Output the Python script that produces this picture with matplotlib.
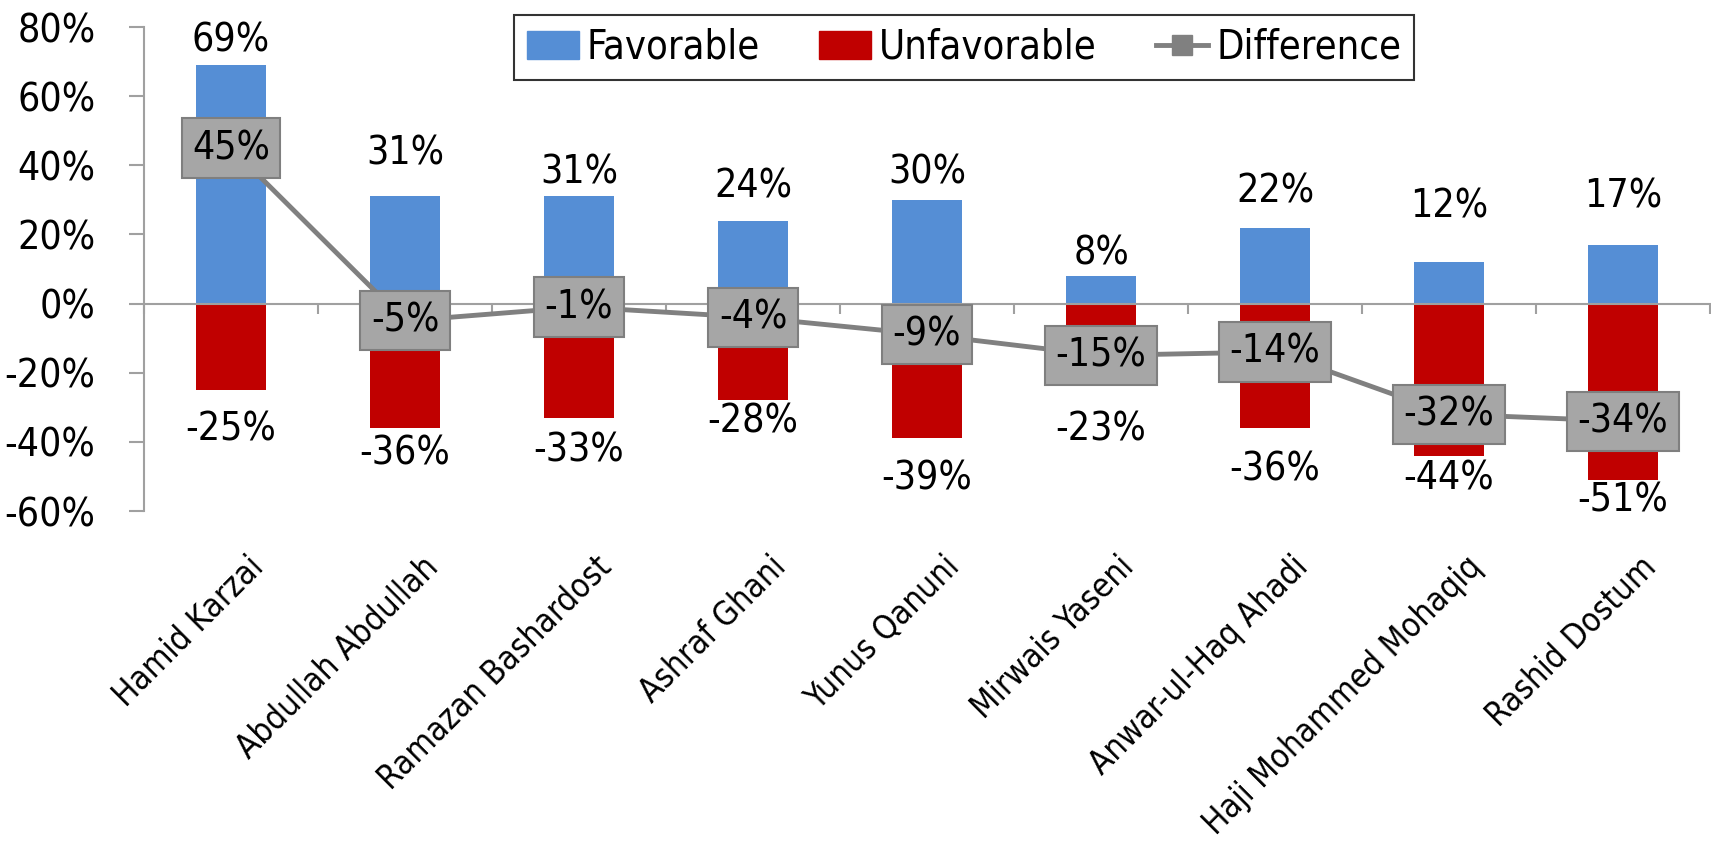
import matplotlib.pyplot as plt
import matplotlib.transforms as mtransforms
from matplotlib import font_manager
from matplotlib.font_manager import FontProperties
from matplotlib.lines import Line2D
from matplotlib.patches import Patch

# the original uses a narrow (Calibri-like) face; use DejaVu Sans Condensed if present
plt.rcParams['font.family'] = ['DejaVu Sans']
plt.rcParams['font.stretch'] = 'condensed'
found = font_manager.findfont(FontProperties(family='DejaVu Sans', stretch='condensed'))
k = 1.08 if 'Condensed' in found else 1.0

candidates = ["Hamid Karzai", "Abdullah Abdullah", "Ramazan Bashardost", "Ashraf Ghani",
              "Yunus Qanuni", "Mirwais Yaseni", "Anwar-ul-Haq Ahadi",
              "Haji Mohammed Mohaqiq", "Rashid Dostum"]
favorable = [69, 31, 31, 24, 30, 8, 22, 12, 17]
unfavorable = [-25, -36, -33, -28, -39, -23, -36, -44, -51]
difference = [45, -5, -1, -4, -9, -15, -14, -32, -34]

# label placement (data units) as moved by hand in the original
fav_label_y = [76, 43.5, 38, 34, 38, 14.5, 32.5, 28, 31]
unf_label_y = [-36.5, -43.5, -42.5, -34, -50.5, -36.5, -48, -50.5, -57]

blue = "#558ED5"
red = "#C00000"
grey = "#808080"
fs = 26 * k

fig = plt.figure(figsize=(17.11, 8.46), dpi=100)
ax = fig.add_axes([144 / 1711, 1 - 511 / 846, (1710 - 144) / 1711, (511 - 27) / 846])

x = list(range(len(candidates)))
ax.bar(x, favorable, width=0.4, color=blue, zorder=2)
ax.bar(x, unfavorable, width=0.4, color=red, zorder=2)
ax.plot(x, difference, color=grey, lw=3.5, zorder=3)

for i in x:
    ax.text(i, fav_label_y[i], f"{favorable[i]}%", ha="center", va="center", fontsize=fs, zorder=4)
    ax.text(i, unf_label_y[i], f"{unfavorable[i]}%", ha="center", va="center", fontsize=fs, zorder=4)
    ax.text(i, difference[i], f"{difference[i]}%", ha="center", va="center", fontsize=fs, zorder=5,
            bbox=dict(boxstyle="square,pad=0.27", fc="#A6A6A6", ec="#7F7F7F", lw=1.5))

ax.set_xlim(-0.5, len(candidates) - 0.5)
ax.set_ylim(-60, 80)
ax.set_yticks(range(-60, 81, 20))
ax.set_yticklabels([f"{t}%" for t in range(-60, 81, 20)], fontsize=fs)

ax.spines["top"].set_visible(False)
ax.spines["right"].set_visible(False)
ax.spines["left"].set_color("#A0A0A0")
ax.spines["left"].set_linewidth(1.5)
ax.spines["bottom"].set_position(("data", 0))
ax.spines["bottom"].set_color("#A0A0A0")
ax.spines["bottom"].set_linewidth(1.5)
ax.spines["bottom"].set_zorder(2.5)
ax.tick_params(axis="y", length=11, width=1.5, color="#A0A0A0", pad=24)
ax.set_xticks([i + 0.5 for i in range(-1, len(candidates))])
ax.set_xticklabels([])
ax.tick_params(axis="x", direction="out", length=7, width=1.5, color="#A0A0A0")

trans = mtransforms.blended_transform_factory(ax.transData, fig.transFigure)
for i, name in enumerate(candidates):
    ax.text(i + 0.16, 1 - 562 / 846, name, transform=trans, rotation=45, rotation_mode="anchor",
            ha="right", va="center", fontsize=22 * k)

handles = [Patch(color=blue, label="Favorable"),
           Patch(color=red, label="Unfavorable"),
           Line2D([0], [0], color=grey, lw=3.5, marker="s", markersize=14, label="Difference")]
leg = fig.legend(handles=handles, loc="upper center", bbox_to_anchor=(964 / 1711, 1 - 15 / 846),
                 ncol=3, fontsize=26.5 * k, frameon=True, fancybox=False, handlelength=1.3,
                 handletextpad=0.2, columnspacing=1.5, borderpad=0.32, borderaxespad=0)
leg.get_frame().set_edgecolor("black")
leg.get_frame().set_linewidth(1.5)

plt.savefig("out.png", dpi=100)
